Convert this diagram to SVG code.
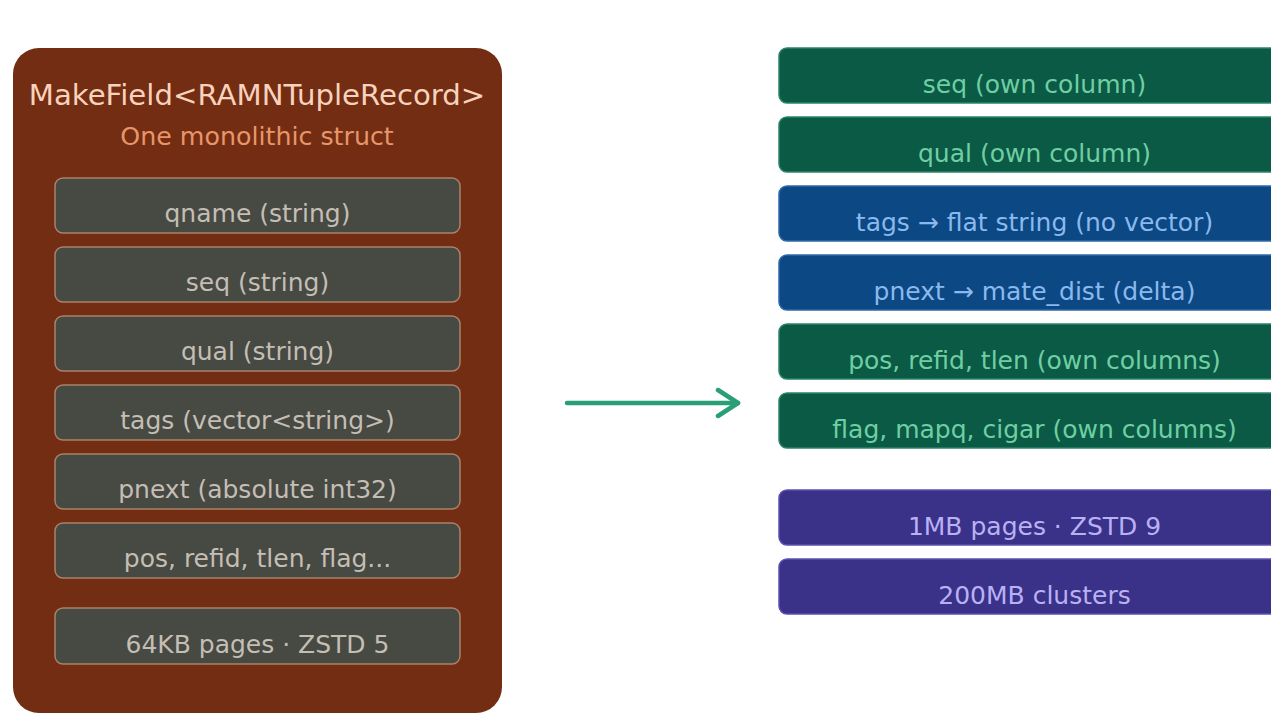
<svg xmlns="http://www.w3.org/2000/svg" width="1271" height="714" viewBox="0 0 1271 714">
<defs>
<style>
text{font-family:"DejaVu Sans","Liberation Sans",sans-serif;text-anchor:middle;}
.field rect{fill:#474943;stroke:#a8826a;stroke-width:1.5;}
.field text{fill:#c4beb4;font-size:25px;}
.green rect{fill:#0b5a45;stroke:#2a8565;stroke-width:1.5;}
.green text{fill:#6fcfa3;font-size:25px;}
.blue rect{fill:#0c4883;stroke:#2f6aa8;stroke-width:1.5;}
.blue text{fill:#8ab9ee;font-size:25px;}
.purple rect{fill:#3a3189;stroke:#5b52b0;stroke-width:1.5;}
.purple text{fill:#b9b1f4;font-size:25px;}
</style>
<marker id="chev" viewBox="0 0 26 32" refX="23" refY="16" markerWidth="26" markerHeight="32" markerUnits="userSpaceOnUse" orient="auto">
<path d="M3,3 L23,16 L3,29" fill="none" stroke="#2a9e77" stroke-width="4.5" stroke-linecap="round" stroke-linejoin="round"/>
</marker>
</defs>
<rect width="1271" height="714" fill="#ffffff"/>

<g id="left-struct">
<rect x="13" y="48" width="489" height="665" rx="26" fill="#722d12"/>
<text x="257" y="105" font-size="29.2" fill="#f8d2bc">MakeField&lt;RAMNTupleRecord&gt;</text>
<text x="257" y="145" font-size="25.3" fill="#e8956a">One monolithic struct</text>
</g>
<g id="f-qname" class="field"><rect x="55" y="178" width="405" height="55" rx="8"/><text x="257.5" y="222">qname (string)</text></g>
<g id="f-seq" class="field"><rect x="55" y="247" width="405" height="55" rx="8"/><text x="257.5" y="291">seq (string)</text></g>
<g id="f-qual" class="field"><rect x="55" y="316" width="405" height="55" rx="8"/><text x="257.5" y="360">qual (string)</text></g>
<g id="f-tags" class="field"><rect x="55" y="385" width="405" height="55" rx="8"/><text x="257.5" y="429">tags (vector&lt;string&gt;)</text></g>
<g id="f-pnext" class="field"><rect x="55" y="454" width="405" height="55" rx="8"/><text x="257.5" y="498">pnext (absolute int32)</text></g>
<g id="f-pos" class="field"><rect x="55" y="523" width="405" height="55" rx="8"/><text x="257.5" y="567">pos, refid, tlen, flag...</text></g>
<g id="f-pages" class="field"><rect x="55" y="608" width="405" height="56" rx="8"/><text x="257.5" y="653">64KB pages · ZSTD 5</text></g>

<g id="r-seq" class="green"><rect x="779" y="48" width="520" height="55" rx="8"/><text x="1034.5" y="93">seq (own column)</text></g>
<g id="r-qual" class="green"><rect x="779" y="117" width="520" height="55" rx="8"/><text x="1034.5" y="162">qual (own column)</text></g>
<g id="r-tags" class="blue"><rect x="779" y="186" width="520" height="55" rx="8"/><text x="1034.5" y="231">tags → flat string (no vector)</text></g>
<g id="r-pnext" class="blue"><rect x="779" y="255" width="520" height="55" rx="8"/><text x="1034.5" y="300">pnext → mate_dist (delta)</text></g>
<g id="r-pos" class="green"><rect x="779" y="324" width="520" height="55" rx="8"/><text x="1034.5" y="369">pos, refid, tlen (own columns)</text></g>
<g id="r-flag" class="green"><rect x="779" y="393" width="520" height="55" rx="8"/><text x="1034.5" y="438">flag, mapq, cigar (own columns)</text></g>
<g id="r-pages" class="purple"><rect x="779" y="490" width="520" height="55" rx="8"/><text x="1034.5" y="535">1MB pages · ZSTD 9</text></g>
<g id="r-clusters" class="purple"><rect x="779" y="559" width="520" height="55" rx="8"/><text x="1034.5" y="604">200MB clusters</text></g>

<g id="connectors">
<line x1="567" y1="403" x2="738" y2="403" stroke="#2a9e77" stroke-width="4.5" stroke-linecap="round" marker-end="url(#chev)"/>
</g>
</svg>
